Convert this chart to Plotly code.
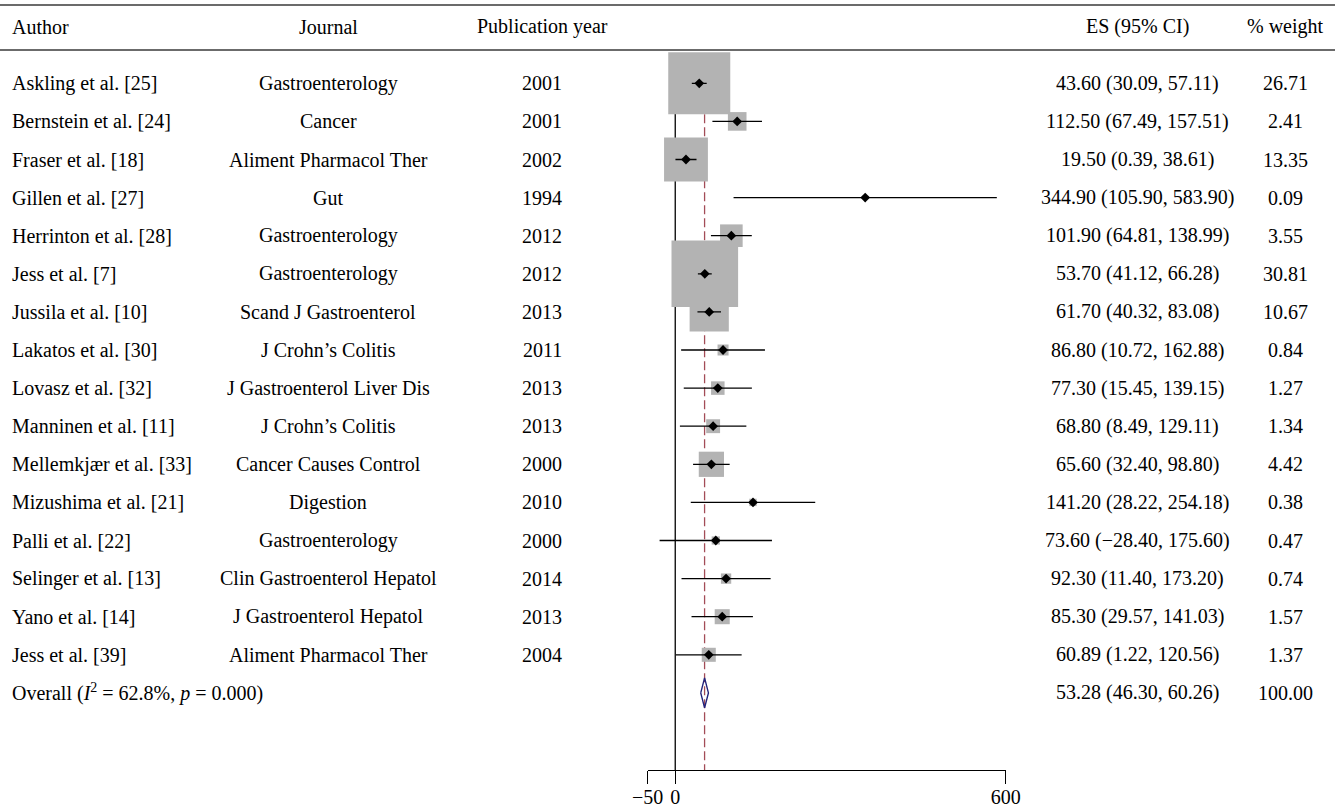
import math
import plotly.graph_objects as go

# ---- study data -------------------------------------------------------------
authors = [
    "Askling et al. [25]", "Bernstein et al. [24]", "Fraser et al. [18]",
    "Gillen et al. [27]", "Herrinton et al. [28]", "Jess et al. [7]",
    "Jussila et al. [10]", "Lakatos et al. [30]", "Lovasz et al. [32]",
    "Manninen et al. [11]", "Mellemkjær et al. [33]", "Mizushima et al. [21]",
    "Palli et al. [22]", "Selinger et al. [13]", "Yano et al. [14]",
    "Jess et al. [39]",
]
journals = [
    "Gastroenterology", "Cancer", "Aliment Pharmacol Ther", "Gut",
    "Gastroenterology", "Gastroenterology", "Scand J Gastroenterol",
    "J Crohn’s Colitis", "J Gastroenterol Liver Dis", "J Crohn’s Colitis",
    "Cancer Causes Control", "Digestion", "Gastroenterology",
    "Clin Gastroenterol Hepatol", "J Gastroenterol Hepatol",
    "Aliment Pharmacol Ther",
]
years = [2001, 2001, 2002, 1994, 2012, 2012, 2013, 2011, 2013, 2013,
         2000, 2010, 2000, 2014, 2013, 2004]
es = [43.60, 112.50, 19.50, 344.90, 101.90, 53.70, 61.70, 86.80, 77.30,
      68.80, 65.60, 141.20, 73.60, 92.30, 85.30, 60.89]
lci = [30.09, 67.49, 0.39, 105.90, 64.81, 41.12, 40.32, 10.72, 15.45,
       8.49, 32.40, 28.22, -28.40, 11.40, 29.57, 1.22]
uci = [57.11, 157.51, 38.61, 583.90, 138.99, 66.28, 83.08, 162.88, 139.15,
       129.11, 98.80, 254.18, 175.60, 173.20, 141.03, 120.56]
weights = [26.71, 2.41, 13.35, 0.09, 3.55, 30.81, 10.67, 0.84, 1.27, 1.34,
           4.42, 0.38, 0.47, 0.74, 1.57, 1.37]

overall_label = "Overall (<i>I</i><sup>2</sup> = 62.8%, <i>p</i> = 0.000)"
overall_es, overall_lci, overall_uci, overall_weight = 53.28, 46.30, 60.26, 100.00

headers = ["Author", "Journal", "Publication year", "ES (95% CI)", "% weight"]
tick_vals = [-50, 0, 600]
tick_text = ["−50", "0", "600"]

# ---- layout geometry (pixels) ------------------------------------------------
W, H = 1335, 810
PLOT_BOTTOM = 770          # y pixel of the x axis line
ROW0 = 83.3                # y pixel of first study row
ROW_STEP = 38.1            # pixels between rows
AX_LEFT, AX_RIGHT = 647.7, 1005.7   # pixel span of the -50..600 axis
COL_X = {"author": 10, "journal": 328, "year": 542, "es": 1137, "w": 1285}
FONT = dict(family="Liberation Serif, Times New Roman, serif", size=20,
            color="black")

BOX_SCALE = 12.0           # px of box side per sqrt(% weight)
BOX_COLOR = "#b3b3b3"
REF_RED = "#a34c57"
NAVY = "#23237a"

n = len(authors)
rows = list(range(n))
overall_row = n

y_top = -ROW0 / ROW_STEP
y_bot = (PLOT_BOTTOM - ROW0) / ROW_STEP


def px_to_paper_y(py):
    return 1 - py / PLOT_BOTTOM


def fmt(v):
    return f"{v:.2f}".replace("-", "−")


fig = go.Figure()

# reference lines: null effect (solid) and pooled estimate (dashed)
fig.add_shape(type="line", xref="x", yref="y", x0=0, x1=0,
              y0=-0.55, y1=y_bot, line=dict(color="black", width=1.3),
              layer="below")
fig.add_shape(type="line", xref="x", yref="y", x0=overall_es, x1=overall_es,
              y0=-0.55, y1=y_bot,
              line=dict(color=REF_RED, width=1.3, dash="9px,4px"),
              layer="below")

# weight boxes
fig.add_trace(go.Scatter(
    x=es, y=rows, mode="markers",
    marker=dict(symbol="square", size=[BOX_SCALE * math.sqrt(w) for w in weights],
                color=BOX_COLOR, opacity=1, line=dict(width=0)),
    cliponaxis=False, hoverinfo="skip", showlegend=False))

# confidence interval whiskers
wx, wy = [], []
for r, lo, hi in zip(rows, lci, uci):
    wx += [lo, hi, None]
    wy += [r, r, None]
fig.add_trace(go.Scatter(
    x=wx, y=wy, mode="lines", line=dict(color="black", width=1.3),
    cliponaxis=False, hoverinfo="skip", showlegend=False))

# point estimates
fig.add_trace(go.Scatter(
    x=es, y=rows, mode="markers",
    marker=dict(symbol="diamond", size=7.5, color="black", opacity=1,
                line=dict(width=0)),
    cliponaxis=False, hoverinfo="skip", showlegend=False))

# pooled estimate diamond
half_h = 15 / ROW_STEP
fig.add_trace(go.Scatter(
    x=[overall_lci, overall_es, overall_uci, overall_es, overall_lci],
    y=[overall_row, overall_row - half_h, overall_row,
       overall_row + half_h, overall_row],
    mode="lines", line=dict(color=NAVY, width=1.4),
    cliponaxis=False, hoverinfo="skip", showlegend=False))

# ---- table text ----------------------------------------------------------------
ann = []


def add_text(text, xpx, y, anchor, yref="y"):
    ann.append(dict(text=text, x=xpx / W, xref="paper", y=y, yref=yref,
                    xanchor=anchor, yanchor="middle", showarrow=False,
                    font=FONT))


header_y = px_to_paper_y(27)
for h, key in zip(headers, ["author", "journal", "year", "es", "w"]):
    add_text(h, COL_X[key], header_y, "left" if key == "author" else "center",
             yref="paper")

for r in rows:
    add_text(authors[r], COL_X["author"], r, "left")
    add_text(journals[r], COL_X["journal"], r, "center")
    add_text(str(years[r]), COL_X["year"], r, "center")
    add_text(f"{fmt(es[r])} ({fmt(lci[r])}, {fmt(uci[r])})", COL_X["es"], r,
             "center")
    add_text(fmt(weights[r]), COL_X["w"], r, "center")

add_text(overall_label, COL_X["author"], overall_row, "left")
add_text(f"{fmt(overall_es)} ({fmt(overall_lci)}, {fmt(overall_uci)})",
         COL_X["es"], overall_row, "center")
add_text(fmt(overall_weight), COL_X["w"], overall_row, "center")

# table rules
for py in (5, 50):
    fig.add_shape(type="line", xref="paper", yref="paper", x0=0, x1=1,
                  y0=px_to_paper_y(py), y1=px_to_paper_y(py),
                  line=dict(color="#3a3a3a", width=1.6))

fig.update_layout(
    width=W, height=H, autosize=False,
    margin=dict(l=0, r=0, t=0, b=H - PLOT_BOTTOM, pad=0, autoexpand=False),
    paper_bgcolor="white", plot_bgcolor="white",
    annotations=ann,
    font=FONT,
    xaxis=dict(domain=[AX_LEFT / W, AX_RIGHT / W], range=[-50, 600],
               tickmode="array", tickvals=tick_vals, ticktext=tick_text,
               ticks="outside", ticklen=13, tickwidth=1.3, tickcolor="black",
               ticklabelstandoff=-4,
               showline=True, linecolor="black", linewidth=1.3,
               showgrid=False, zeroline=False, fixedrange=True,
               automargin=False, tickfont=FONT),
    yaxis=dict(range=[y_bot, y_top], visible=False, showgrid=False,
               zeroline=False, fixedrange=True, automargin=False),
)

fig.write_html("out.html")
